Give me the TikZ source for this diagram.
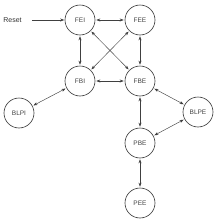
\documentclass[tikz,border=0pt]{standalone}
\usepackage{fontspec}
\setmainfont{Liberation Sans}
\usetikzlibrary{arrows.meta}
\begin{document}
\begin{tikzpicture}[x=1pt,y=1pt,
  state/.style={circle,draw=black!80,line width=0.6pt,minimum size=30pt,inner sep=0pt,font=\fontsize{6.5}{7}\selectfont,text=black!75},
  conn/.style={{Stealth[length=4pt,width=3pt]}-{Stealth[length=4pt,width=3pt]},draw=black!75,line width=0.45pt,shorten <=1pt,shorten >=1pt},
  oneway/.style={-{Stealth[length=4pt,width=3pt]},draw=black!75,line width=0.45pt}]
\useasboundingbox (0,0) rectangle (220,-220);
\node[state] (FEI) at (80,-20) {FEI};
\node[state] (FEE) at (140,-20) {FEE};
\node[state] (FBI) at (80,-81) {FBI};
\node[state] (FBE) at (140,-81) {FBE};
\node[state] (BLPI) at (19,-113) {BLPI};
\node[state] (BLPE) at (198,-112) {BLPE};
\node[state] (PBE) at (140,-143) {PBE};
\node[state] (PEE) at (140,-203) {PEE};
\node[font=\fontsize{7}{8}\selectfont,text=black!80,inner sep=1pt] (reset) at (12.5,-20) {Reset};
\draw[oneway,shorten <=9pt,shorten >=0.5pt] (reset.east) -- (FEI);
\draw[conn] (FEI) -- (FEE);
\draw[conn] (FEI) -- (FBI);
\draw[conn] (FEI) -- (FBE);
\draw[conn] (FEE) -- (FBI);
\draw[conn] (FEE) -- (FBE);
\draw[conn] (FBI) -- (FBE);
\draw[conn] (FBI) -- (BLPI);
\draw[conn] (FBE) -- (BLPE);
\draw[conn] (FBE) -- (PBE);
\draw[conn] (PBE) -- (BLPE);
\draw[conn] (PBE) -- (PEE);
\end{tikzpicture}
\end{document}
